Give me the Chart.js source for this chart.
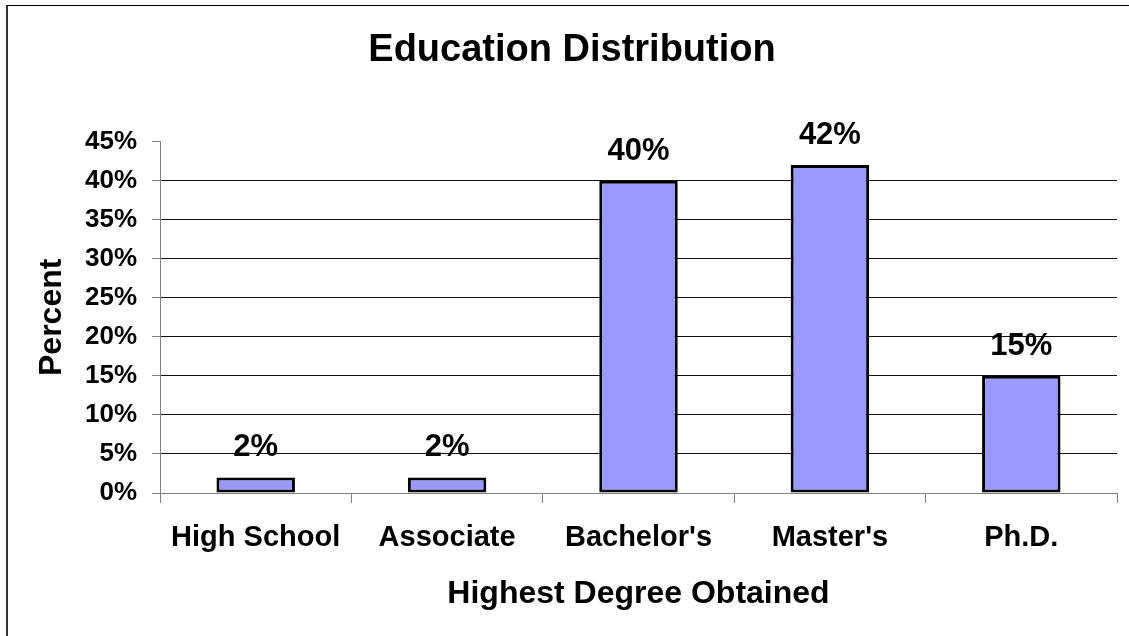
<!DOCTYPE html>
<html>
<head>
<meta charset="utf-8">
<title>Education Distribution</title>
<script src="https://cdn.jsdelivr.net/npm/chart.js@4"></script>
<style>
    body { margin: 0; background: #fff; }
    #wrap { position: relative; width: 1129px; height: 636px; overflow: hidden; }
    #frame {
        position: absolute; left: 6px; top: 5px; width: 1200px; height: 700px;
        border-left: 2px solid #333; border-top: 1px solid #000;
        pointer-events: none;
    }
</style>
</head>
<body>
<div id="wrap">
    <canvas id="eduChart"></canvas>
    <div id="frame"></div>
</div>
<script>
const degrees = ["High School", "Associate", "Bachelor's", "Master's", "Ph.D."];
const percents = [2, 2, 40, 42, 15];
const yTicks = [0, 5, 10, 15, 20, 25, 30, 35, 40, 45];

const FONT = "'Liberation Sans', Arial, sans-serif";

// labels above each bar, placed from the bar elements
const barLabels = {
    id: "barLabels",
    afterDatasetsDraw(chart) {
        const ctx = chart.ctx;
        const meta = chart.getDatasetMeta(0);
        ctx.save();
        ctx.font = "bold 31px " + FONT;
        ctx.fillStyle = "#000";
        ctx.textAlign = "center";
        ctx.textBaseline = "alphabetic";
        meta.data.forEach((bar, i) => {
            ctx.fillText(percents[i] + "%", bar.x, bar.y - 21);
        });
        ctx.restore();
    }
};

// the title sits a little right of the canvas centre in the original
const titleNudge = {
    id: "titleNudge",
    afterLayout(chart) {
        if (chart.titleBlock) chart.titleBlock.left += 27;
    }
};

window.addEventListener("load", () => {
    const ctx = document.getElementById("eduChart");
    new Chart(ctx, {
        type: "bar",
        data: {
            labels: degrees,
            datasets: [{
                data: percents,
                backgroundColor: "#9999FF",
                borderColor: "#000",
                borderWidth: 3,
                borderSkipped: false,
                barPercentage: 0.41,
                categoryPercentage: 1
            }]
        },
        options: {
            responsive: true,
            maintainAspectRatio: false,
            animation: false,
            layout: { padding: { left: 0, right: 12, top: 0, bottom: 0 } },
            plugins: {
                legend: { display: false },
                tooltip: { enabled: false },
                title: {
                    display: true,
                    text: "Education Distribution",
                    color: "#000",
                    font: { family: FONT, size: 38, weight: "bold" },
                    padding: { top: 28, bottom: 68 }
                }
            },
            scales: {
                x: {
                    grid: {
                        offset: true,
                        drawOnChartArea: false,
                        drawTicks: true,
                        tickLength: 10,
                        tickColor: "#808080"
                    },
                    border: { color: "#808080", width: 1 },
                    ticks: {
                        color: "#000",
                        padding: 18,
                        maxRotation: 0,
                        font: { family: FONT, size: 29, weight: "bold" }
                    },
                    title: {
                        display: true,
                        text: "Highest Degree Obtained",
                        color: "#000",
                        font: { family: FONT, size: 32, weight: "bold" },
                        padding: { top: 0, bottom: 23 }
                    },
                    afterFit(scale) { scale.height = 143; }
                },
                y: {
                    min: yTicks[0],
                    max: yTicks[yTicks.length - 1],
                    afterBuildTicks(scale) {
                        scale.ticks = yTicks.map(v => ({ value: v }));
                    },
                    grid: {
                        color: c => (c.tick && c.tick.value === 45) ? "rgba(0,0,0,0)" : "#111",
                        lineWidth: 1,
                        tickLength: 8,
                        tickColor: "#808080"
                    },
                    border: { color: "#808080", width: 1 },
                    ticks: {
                        color: "#000",
                        padding: 15,
                        font: { family: FONT, size: 26, weight: "bold" },
                        callback: v => v + "%"
                    },
                    title: {
                        display: true,
                        text: "Percent",
                        color: "#000",
                        font: { family: FONT, size: 32, weight: "bold" },
                        padding: { top: 33, bottom: 0 }
                    },
                    afterFit(scale) { scale.width = 160; }
                }
            }
        },
        plugins: [barLabels, titleNudge]
    });
});
</script>
</body>
</html>
